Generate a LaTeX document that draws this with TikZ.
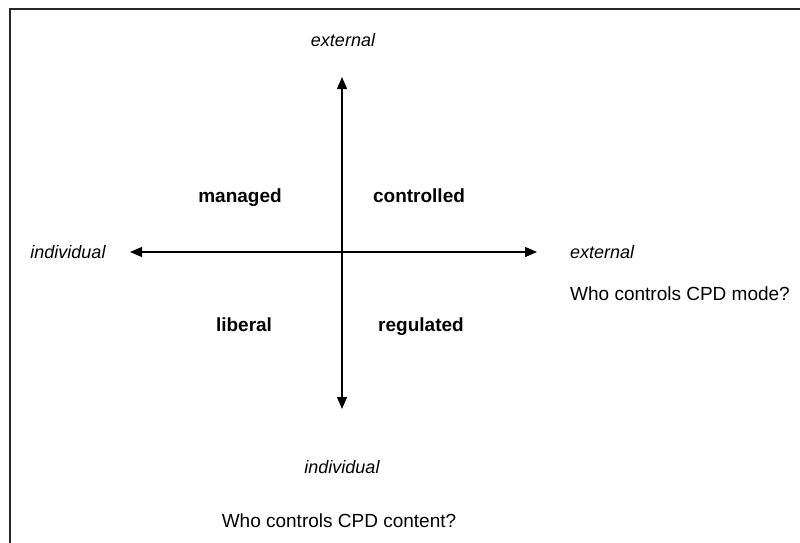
\documentclass[tikz,border=0pt]{standalone}
\usepackage{fontspec}
\setmainfont{Liberation Sans}
\usetikzlibrary{arrows.meta}
\begin{document}
\begin{tikzpicture}[x=1pt,y=-1pt,
  lbl/.style={inner sep=0pt,font=\fontsize{19}{23}\selectfont},
  ilbl/.style={inner sep=0pt,font=\fontsize{18}{22}\selectfont\itshape},
  blbl/.style={inner sep=0pt,font=\fontsize{19}{23}\selectfont\bfseries},
  axis/.style={line width=1.3pt,{Triangle[length=12pt,width=10pt]}-{Triangle[length=12pt,width=10pt]}},
  frame/.style={line width=2pt,draw=black!85}]
\useasboundingbox (0,0) rectangle (800,543);
\draw[frame] (10,543) -- (10,9) -- (800,9);
\coordinate (vtop) at (342,77);
\coordinate (vbot) at (342,409);
\coordinate (hleft) at (130,252);
\coordinate (hright) at (537,252);
\draw[axis] (vtop) -- (vbot);
\draw[axis] (hleft) -- (hright);
\node[ilbl,anchor=base] (topext) at (343,47) {external};
\node[ilbl,anchor=base] (leftind) at (68,258) {individual};
\node[ilbl,anchor=base west] (rightext) at (570,258) {external};
\node[lbl,anchor=base west] (modeq) at (570,300) {Who controls CPD mode?};
\node[blbl,anchor=base] (managed) at (240,202) {managed};
\node[blbl,anchor=base] (controlled) at (419,202) {controlled};
\node[blbl,anchor=base] (liberal) at (244,331) {liberal};
\node[blbl,anchor=base] (regulated) at (421,331) {regulated};
\node[ilbl,anchor=base] (botind) at (342,473) {individual};
\node[lbl,anchor=base] (contentq) at (339,527) {Who controls CPD content?};
\end{tikzpicture}
\end{document}
